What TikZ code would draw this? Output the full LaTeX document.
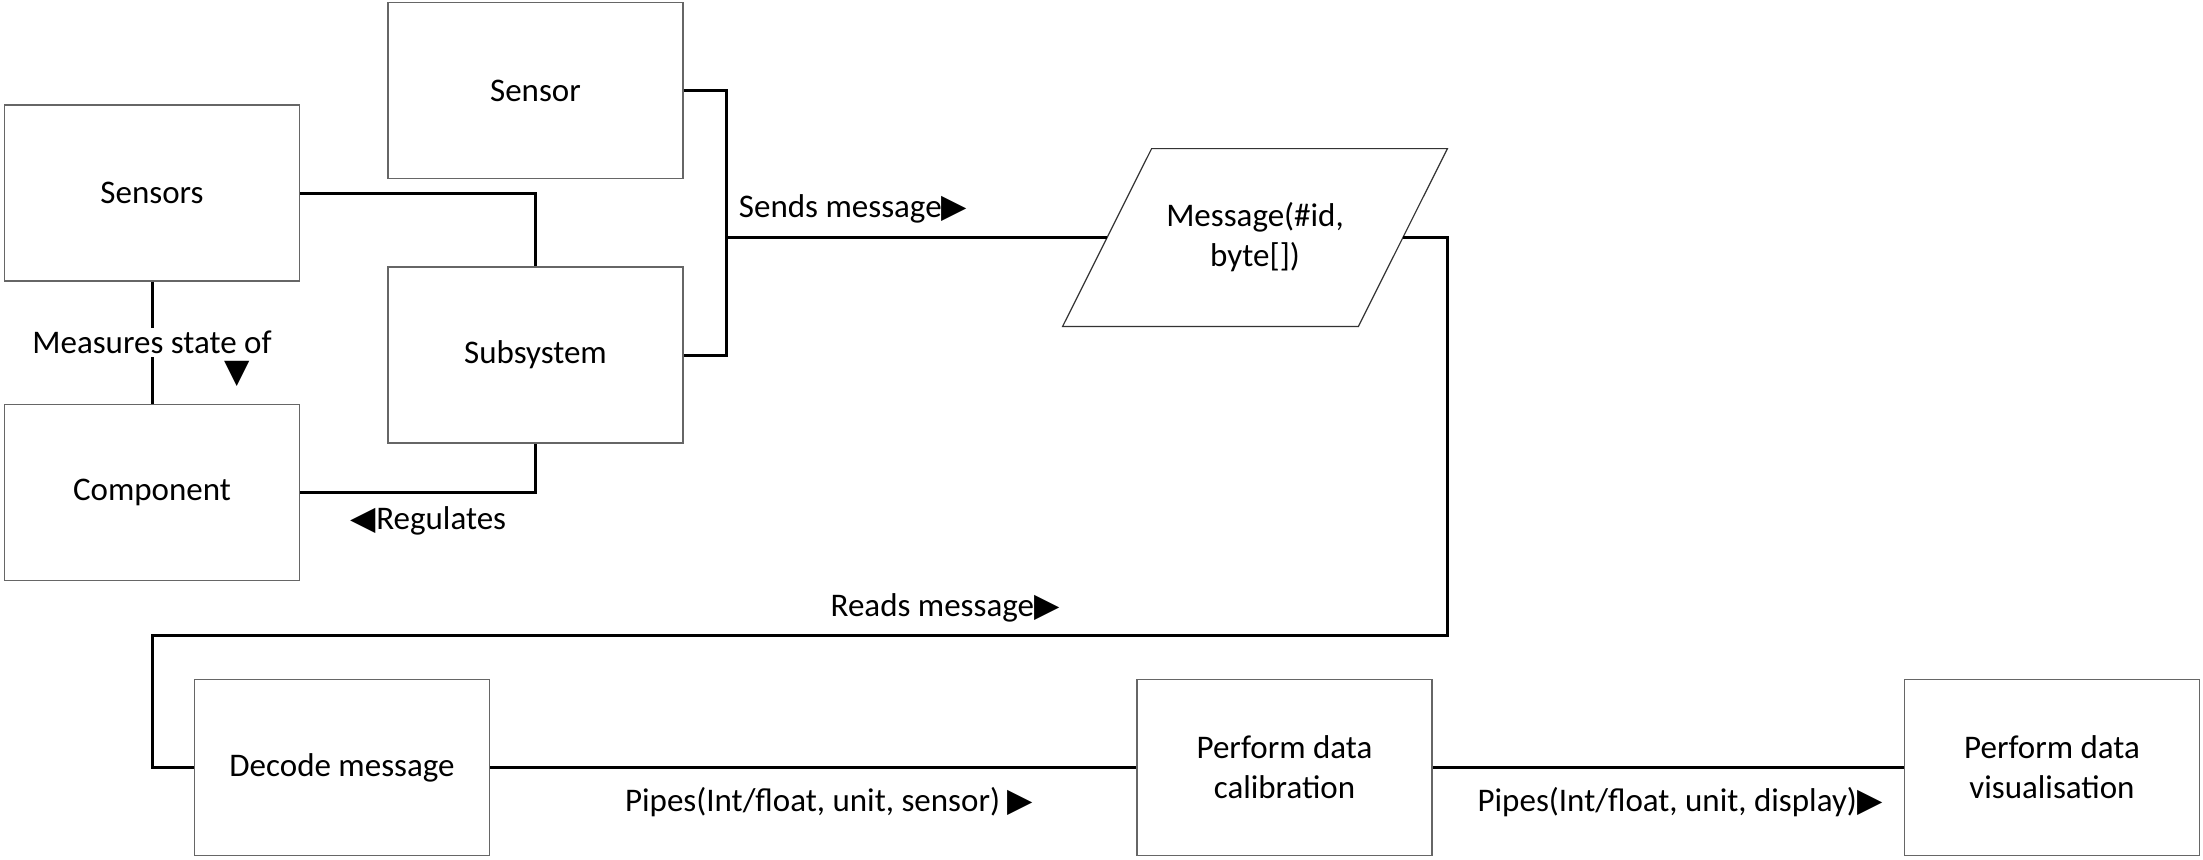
\documentclass[tikz,border=0pt]{standalone}
\usepackage{fontspec}
\setmainfont{Carlito}
\newfontfamily\symfont{DejaVu Sans}

\begin{document}
\begin{tikzpicture}[x=0.5pt, y=-0.5pt,
  every node/.style = {font=\fontsize{16.5}{20}\selectfont, align=center},
  blockbox/.style = {shape=rectangle, draw=black!60, line width=0.6pt,
    minimum width=147.5pt, minimum height=88pt, inner sep=2pt},
  databox/.style = {shape=rectangle, minimum width=147.5pt, minimum height=88.5pt, inner sep=0pt},
  dataline/.style = {draw=black!80, line width=0.6pt},
  link/.style = {line width=1.5pt},
  tag/.style = {inner sep=1pt}]
  \useasboundingbox (0,0) rectangle (2203,859);

  \node[blockbox] (sensors) at (152,193) {Sensors};
  \node[blockbox] (sensor) at (535.5,90.5) {Sensor};
  \node[blockbox] (subsys) at (535.5,355) {Subsystem};
  \node[blockbox] (comp) at (152,492.5) {Component};
  \node[databox] (msg) at (1255,237.5) {Message(\#id,\\byte[])};
  \draw[dataline] ([xshift=22.25pt]msg.north west) -- ([xshift=22.25pt]msg.north east)
    -- ([xshift=-22.25pt]msg.south east) -- ([xshift=-22.25pt]msg.south west) -- cycle;
  \node[blockbox] (decode) at (342,767.5) {Decode message};
  \node[blockbox] (calib) at (1284.5,767.5) {Perform data\\calibration};
  \node[blockbox] (visual) at (2052,767.5) {Perform data\\visualisation};

  \coordinate (bus) at (726,237.5);
  \coordinate (rdn) at (1447,635);
  \coordinate (lft) at (152,635);

  \draw[link] (sensors.east) -| (subsys.north);
  \draw[link] (sensors.south) -- node[fill=white, inner sep=1.5pt] {Measures state of} (comp.north);
  \draw[link] (comp.east) -| (subsys.south);
  \draw[link] (sensor.east) -| (bus) |- (subsys.east);
  \draw[link] (bus) -- (msg.west);
  \draw[link] (msg.east) -| (rdn) -- (lft) |- (decode.west);
  \draw[link] (decode.east) -- (calib.west);
  \draw[link] (calib.east) -- (visual.west);

  \node[tag] (mstri) at (237,374) {\symfont ▼};
  \node[tag] (regl) at (428.5,521) {{\symfont ◀}Regulates};
  \node[tag] (sendl) at (853,209) {Sends message{\symfont ▶}};
  \node[tag] (readl) at (945,608) {Reads message{\symfont ▶}};
  \node[tag] (pipe1) at (829,802) {Pipes(Int/float, unit, sensor) {\symfont ▶}};
  \node[tag] (pipe2) at (1680,802) {Pipes(Int/float, unit, display){\symfont ▶}};
\end{tikzpicture}
\end{document}
